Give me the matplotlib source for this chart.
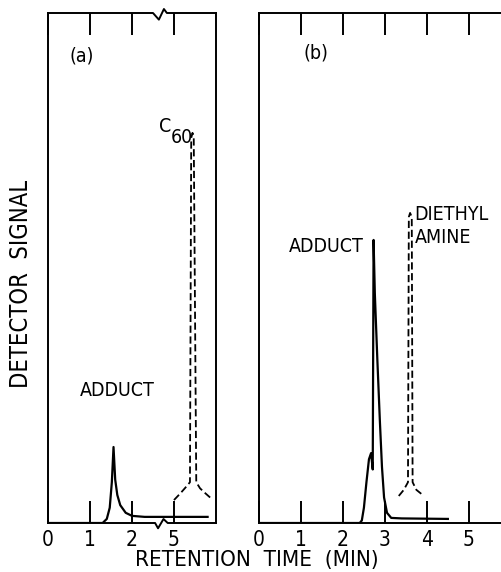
import numpy as np
import matplotlib
matplotlib.use('Agg')
import matplotlib.pyplot as plt

plt.rcParams['font.family'] = ['DejaVu Sans']
plt.rcParams['font.stretch'] = 'condensed'

# panel (a): retention time (min) and detector signal (arbitrary, 0-100)
adduct_a_t = [0, 1.3, 1.4, 1.47, 1.52, 1.56, 1.6, 1.65, 1.72, 1.85, 2.0, 2.3, 5.0, 5.8]
adduct_a_s = [0, 0, 0.8, 3, 8, 14.9, 8.5, 5.5, 3.5, 2.0, 1.4, 1.2, 1.2, 1.2]
c60_t = [5.0, 5.15, 5.3, 5.38, 5.41, 5.44, 5.47, 5.53, 5.56, 5.62, 5.75, 5.86]
c60_s = [4.5, 5.8, 7.2, 8.0, 75.5, 76.5, 75.8, 8.0, 7.6, 6.8, 5.8, 5.0]

# panel (b)
adduct_b_t = [0, 2.4, 2.45, 2.5, 2.56, 2.62, 2.67, 2.71, 2.73, 2.76, 2.82, 2.88,
              2.93, 2.98, 3.05, 3.15, 3.4, 4.5]
adduct_b_s = [0, 0, 0.5, 3, 8, 12.5, 13.7, 10.5, 55.5, 45, 32, 20, 11, 5, 2, 1,
              0.9, 0.8]
amine_t = [3.33, 3.45, 3.55, 3.57, 3.6, 3.64, 3.66, 3.75, 3.93]
amine_s = [5.3, 6.5, 8.0, 60.0, 60.8, 60.0, 8.0, 6.5, 5.3]

ticks_a = [0, 1, 2, 5]
ticks_b = [0, 1, 2, 3, 4, 5]

BREAK_SHIFT = 2.0  # 5 min is drawn where 3 min would be


def pos_a(t):
    t = np.asarray(t, dtype=float)
    return np.where(t >= 4.0, t - BREAK_SHIFT, t)


lw = 1.6
fig = plt.figure(figsize=(5.02, 5.72), dpi=100)
axa = fig.add_axes([48/502, 49/572, 168/502, 510/572])
axb = fig.add_axes([259/502, 49/572, 243/502, 510/572])

axa.plot(pos_a(adduct_a_t), adduct_a_s, color='k', lw=lw)
axa.plot(pos_a(c60_t), c60_s, color='k', lw=1.3, ls=(0, (4, 2)))
axb.plot(adduct_b_t, adduct_b_s, color='k', lw=lw)
axb.plot(amine_t, amine_s, color='k', lw=1.3, ls=(0, (4, 2)))

axa.set_xlim(0, 4.0)
axb.set_xlim(0, 5.79)
for ax in (axa, axb):
    ax.set_ylim(0, 100)
    ax.set_yticks([])
    ax.tick_params(axis='x', direction='in', length=16, width=1.4, top=True,
                   labelsize=15, pad=5)
    for s in ax.spines.values():
        s.set_linewidth(1.4)

axa.set_xticks(pos_a(ticks_a))
axa.set_xticklabels([str(v) for v in ticks_a])
axb.set_xticks(ticks_b)
axb.set_xticklabels([str(v) for v in ticks_b])
axb.spines['right'].set_visible(False)

# axis break zigzags in panel (a)
axa.spines['top'].set_visible(False)
axa.spines['bottom'].set_visible(False)
tr = axa.get_xaxis_transform()
d = 0.013
axa.plot([0, 2.5, 2.64, 2.76, 2.83, 4.0], [1, 1, 1 - d, 1 + 0.6*d, 1, 1],
         color='k', lw=1.4, transform=tr, clip_on=False)
axa.plot([0, 2.55, 2.62, 2.75, 2.85, 4.0], [0, 0, -d*0.8, 0.6*d, 0, 0],
         color='k', lw=1.4, transform=tr, clip_on=False)

txt = dict(fontsize=14, color='k')
axa.text(0.52, 91.5, '(a)', ha='left', va='center', **txt)
axa.text(1.64, 25.9, 'ADDUCT', ha='center', va='center', **txt)
axa.text(2.64, 77.8, 'C', ha='left', va='center', **txt)
axa.text(2.93, 75.5, '60', ha='left', va='center', **txt)

axb.text(1.05, 92.2, '(b)', ha='left', va='center', **txt)
axb.text(2.5, 54.3, 'ADDUCT', ha='right', va='center', **txt)
axb.text(3.71, 60.4, 'DIETHYL', ha='left', va='center', **txt)
axb.text(3.71, 55.9, 'AMINE', ha='left', va='center', **txt)

fig.text(21/502, 1 - 284/572, 'DETECTOR  SIGNAL', rotation=90, ha='center',
         va='center', fontsize=17)
fig.text(257/502, 2/572, 'RETENTION  TIME  (MIN)', ha='center',
         va='bottom', fontsize=16)

fig.savefig('out.png', dpi=100)
